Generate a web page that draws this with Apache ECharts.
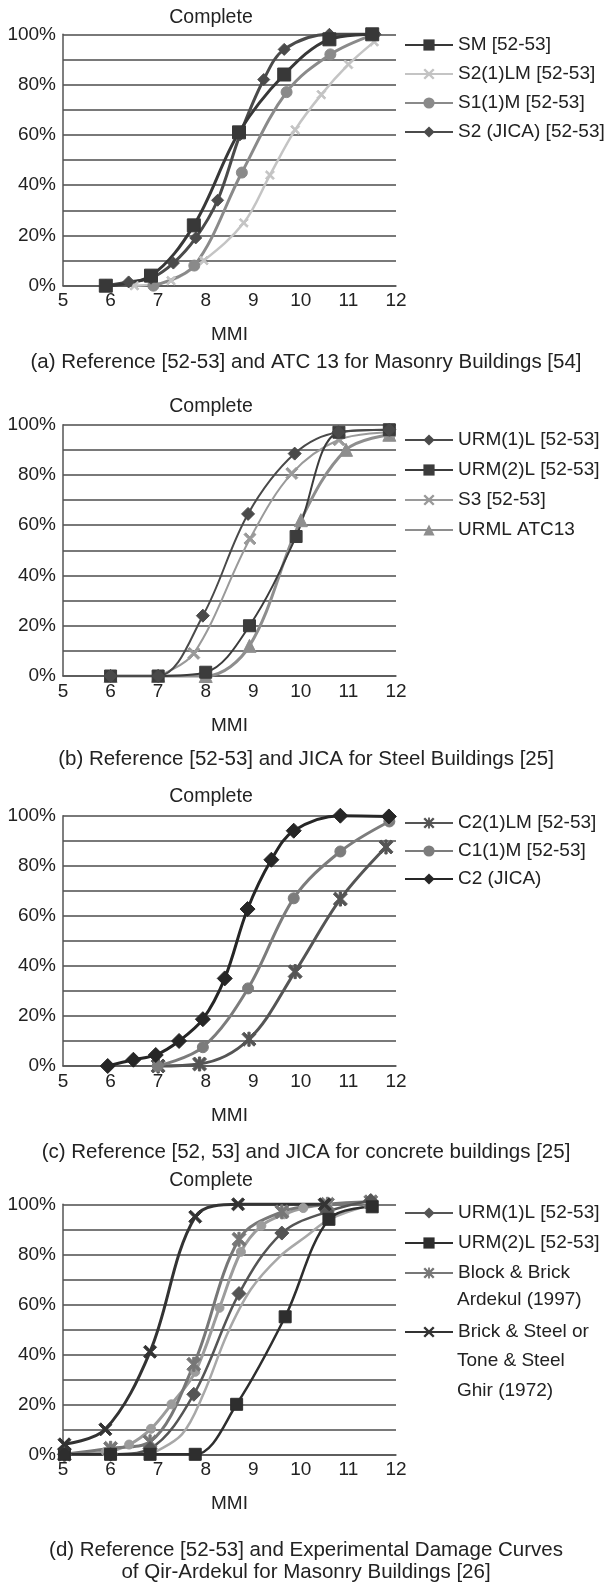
<!DOCTYPE html>
<html>
<head>
<meta charset="utf-8">
<script src="https://cdn.jsdelivr.net/npm/echarts@6/dist/echarts.min.js"></script>
<style>
html,body{margin:0;padding:0;background:#fff;}
#chart{width:613px;height:1589px;}
</style>
</head>
<body>
<div id="chart"></div>
<script>
// ---------- DATA ----------
const xTicks = [5, 6, 7, 8, 9, 10, 11, 12];
const yTickLabels = ['0%', '20%', '40%', '60%', '80%', '100%'];

// (a) Masonry
const a_SM_x = [5.9, 6.85, 7.75, 8.7, 9.65, 10.6, 11.5];
const a_SM_y = [0, 4, 24, 61, 84, 98, 100];
const a_S21LM_x = [6.5, 7.27, 7.96, 8.8, 9.35, 9.88, 10.43, 11.0, 11.54];
const a_S21LM_y = [0, 2, 10, 25, 44, 62, 76, 88, 97];
const a_S11M_x = [6.9, 7.76, 8.76, 9.7, 10.62, 11.54];
const a_S11M_y = [0, 8, 45, 77, 92, 100];
const a_S2JICA_x = [5.9, 6.38, 6.85, 7.32, 7.79, 8.25, 8.72, 9.22, 9.65, 10.6, 11.56];
const a_S2JICA_y = [0, 1.5, 3, 9, 19, 34, 60, 82, 94, 100, 100];

// (b) Steel
const b_URM1L_x = [6, 7, 7.94, 8.89, 9.87, 10.79, 11.86];
const b_URM1L_y = [0, 0, 24, 64.5, 88.5, 97, 98];
const b_URM2L_x = [6, 7, 8, 8.92, 9.9, 10.8, 11.86];
const b_URM2L_y = [0, 0, 1.5, 20, 55.5, 97, 98];
const b_S3_x = [7, 7.75, 8.93, 9.81, 10.8, 11.86];
const b_S3_y = [0, 9, 54.6, 80.6, 94, 97];
const b_URML_x = [6, 7, 8, 8.92, 10.0, 10.95, 11.86];
const b_URML_y = [0, 0, 0, 12, 62, 90, 96];

// (c) Concrete
const c_C21LM_x = [7.0, 7.87, 8.91, 9.88, 10.83, 11.79];
const c_C21LM_y = [0, 0.8, 10.7, 37.7, 66.7, 87.5];
const c_C11M_x = [6.99, 7.94, 8.89, 9.85, 10.83, 11.86];
const c_C11M_y = [0, 7.5, 31, 67, 85.7, 97.7];
const c_C2JICA_x = [5.94, 6.48, 6.95, 7.44, 7.94, 8.4, 8.88, 9.38, 9.85, 10.83, 11.85];
const c_C2JICA_y = [0, 2.5, 4.4, 10, 18.7, 35, 62.7, 82.4, 94, 100, 99.7];

// (d) Qir-Ardekul
const d_URM1L_x = [5.03, 6.0, 6.83, 7.75, 8.7, 9.6, 10.55, 11.47];
const d_URM1L_y = [0, 0, 2.3, 24, 64.3, 88.5, 97, 101.5];
const d_URM2L_x = [5.03, 6.0, 6.83, 7.78, 8.65, 9.67, 10.59, 11.5];
const d_URM2L_y = [0, 0, 0, 0, 20, 55, 94, 99];
const d_Block_x = [5.03, 6.0, 6.83, 7.75, 8.7, 9.6, 10.56, 11.47];
const d_Block_y = [0, 2.4, 5, 36, 86, 97, 100, 101];
const d_Ghir_x = [5.03, 5.89, 6.83, 7.78, 8.68, 10.5];
const d_Ghir_y = [4, 10, 41, 95, 100, 100];
const d_Extra1_x = [5.03, 5.9, 6.39, 6.85, 7.28, 7.78, 8.29, 8.74, 9.17, 9.65, 10.05, 10.56];
const d_Extra1_y = [0, 1, 3.9, 10.2, 20, 33, 58.6, 81, 91.4, 96, 98.5, 100];
const d_Extra2_x = [6.83, 7.5, 7.95, 8.45, 8.95, 9.55, 10.1, 10.6, 11.5];
const d_Extra2_y = [0, 8, 24, 48, 66, 79, 87, 94, 100];

const captions = [
  '(a) Reference [52-53] and ATC 13 for Masonry Buildings [54]',
  '(b) Reference [52-53] and JICA for Steel Buildings [25]',
  '(c) Reference [52, 53] and JICA for concrete buildings [25]',
  '(d) Reference [52-53] and Experimental Damage Curves\nof Qir-Ardekul for Masonry Buildings [26]'
];

// ---------- STYLE / LAYOUT ----------
const FF = '"Liberation Sans", Arial, sans-serif';
const FS = 19;
const TXT = '#222';
const GRID_LEFT = 63, GRID_W = 333;
const gridTops = [34.3, 424.7, 815.7, 1204.3];
const gridHs = [251.4, 251.3, 250.3, 250.0];
const titleCenters = [18, 406.7, 796.7, 1181];
const captionCenters = [362, 759, 1152, 1561];

const X_PATH = 'path://M0,1.5 L1.5,0 L5,3.5 L8.5,0 L10,1.5 L6.5,5 L10,8.5 L8.5,10 L5,6.5 L1.5,10 L0,8.5 L3.5,5 Z';
const AST_PATH = 'path://M0,1.5 L1.5,0 L5,3.5 L8.5,0 L10,1.5 L6.5,5 L10,8.5 L8.5,10 L5,6.5 L1.5,10 L0,8.5 L3.5,5 Z M4.2,0 L5.8,0 L5.8,10 L4.2,10 Z';

const zip = (xs, ys) => xs.map((x, i) => [x, ys[i]]);

function mk(name, idx, xs, ys, color, symbol, size, width) {
  return {
    name: name, type: 'line', xAxisIndex: idx, yAxisIndex: idx,
    data: zip(xs, ys), smooth: 0.35, clip: false,
    symbol: symbol, symbolSize: size, showSymbol: symbol !== 'none',
    lineStyle: { color: color, width: width },
    itemStyle: { color: color, borderColor: color },
    emphasis: { disabled: true }, silent: true
  };
}

const series = [
  // a
  mk('S2(1)LM [52-53]', 0, a_S21LM_x, a_S21LM_y, '#c4c4c4', X_PATH, 9, 2.5),
  mk('S1(1)M [52-53]', 0, a_S11M_x, a_S11M_y, '#8a8a8a', 'circle', 11, 3),
  mk('S2 (JICA) [52-53]', 0, a_S2JICA_x, a_S2JICA_y, '#4b4b4b', 'diamond', 12, 3),
  mk('SM [52-53]', 0, a_SM_x, a_SM_y, '#383838', 'rect', 13, 3),
  // b
  mk('URML ATC13', 1, b_URML_x, b_URML_y, '#8e8e8e', 'triangle', 13, 3),
  mk('S3 [52-53]', 1, b_S3_x, b_S3_y, '#9a9a9a', X_PATH, 12, 2),
  mk('URM(2)L [52-53]', 1, b_URM2L_x, b_URM2L_y, '#3c3c3c', 'rect', 12, 2),
  mk('URM(1)L [52-53]', 1, b_URM1L_x, b_URM1L_y, '#4a4a4a', 'diamond', 13, 2),
  // c
  mk('C2(1)LM [52-53]', 2, c_C21LM_x, c_C21LM_y, '#555555', AST_PATH, 14, 3),
  mk('C1(1)M [52-53]', 2, c_C11M_x, c_C11M_y, '#7c7c7c', 'circle', 11, 3),
  mk('C2 (JICA)', 2, c_C2JICA_x, c_C2JICA_y, '#262626', 'diamond', 15, 3),
  // d
  mk('extra-line', 3, d_Extra2_x, d_Extra2_y, '#a8a8a8', 'none', 0, 2.5),
  mk('extra-circles', 3, d_Extra1_x, d_Extra1_y, '#9c9c9c', 'circle', 9, 3),
  mk('Block & Brick Ardekul (1997)', 3, d_Block_x, d_Block_y, '#777777', AST_PATH, 14, 3),
  mk('URM(1)L [52-53] ', 3, d_URM1L_x, d_URM1L_y, '#555555', 'diamond', 14, 2.5),
  mk('URM(2)L [52-53] ', 3, d_URM2L_x, d_URM2L_y, '#2e2e2e', 'rect', 12, 2.5),
  mk('Brick & Steel or Tone & Steel Ghir (1972)', 3, d_Ghir_x, d_Ghir_y, '#333333', X_PATH, 13, 3)
];

const grids = gridTops.map((t, i) => ({ left: GRID_LEFT, width: GRID_W, top: t, height: gridHs[i] }));

const xAxes = gridTops.map((t, i) => ({
  type: 'value', gridIndex: i, min: 5, max: 12, interval: 1,
  axisLine: { show: true, lineStyle: { color: '#555', width: 1.5 } },
  axisTick: { show: false }, splitLine: { show: false },
  axisLabel: { color: TXT, fontSize: FS, fontFamily: FF, margin: 6,
    formatter: v => (xTicks.indexOf(v) >= 0 ? String(v) : '') },
  name: 'MMI', nameLocation: 'middle', nameGap: 40,
  nameTextStyle: { color: TXT, fontSize: FS, fontFamily: FF }
}));

const yAxes = gridTops.map((t, i) => ({
  type: 'value', gridIndex: i, min: 0, max: 100, interval: 10,
  axisLine: { show: true, lineStyle: { color: '#555', width: 1.5 } },
  axisTick: { show: false },
  splitLine: { show: true, lineStyle: { color: '#4d4d4d', width: 1.5 } },
  axisLabel: { color: TXT, fontSize: FS, fontFamily: FF, margin: 7,
    formatter: v => (v % 20 === 0 ? yTickLabels[v / 20] : '') }
}));

const titles = [];
titleCenters.forEach(c => titles.push({
  text: 'Complete', left: 211, top: c - 11, textAlign: 'center', padding: 0,
  textStyle: { color: TXT, fontSize: 19.5, fontWeight: 'normal', fontFamily: FF, lineHeight: 22 }
}));
captions.forEach((c, i) => {
  const nLines = c.split('\n').length;
  titles.push({
    text: c, left: 306, top: captionCenters[i] - 11 - (nLines - 1) * 11, textAlign: 'center', padding: 0,
    textStyle: { color: TXT, fontSize: 20.5, fontWeight: 'normal', fontFamily: FF, lineHeight: 22 }
  });
});

const legendBase = {
  orient: 'vertical', left: 404, itemWidth: 48, itemHeight: 14,
  textStyle: { color: TXT, fontSize: FS, fontFamily: FF, lineHeight: 20 },
  selectedMode: false, padding: 0
};
const nameMap = {
  'Block & Brick Ardekul (1997)': 'Block & Brick',
  'Brick & Steel or Tone & Steel Ghir (1972)': 'Brick & Steel or'
};
const legends = [
  Object.assign({}, legendBase, { top: 35, itemGap: 9,
    data: ['SM [52-53]', 'S2(1)LM [52-53]', 'S1(1)M [52-53]', 'S2 (JICA) [52-53]'] }),
  Object.assign({}, legendBase, { top: 430, itemGap: 10,
    data: ['URM(1)L [52-53]', 'URM(2)L [52-53]', 'S3 [52-53]', 'URML ATC13'] }),
  Object.assign({}, legendBase, { top: 813, itemGap: 8,
    data: ['C2(1)LM [52-53]', 'C1(1)M [52-53]', 'C2 (JICA)'] }),
  Object.assign({}, legendBase, { top: 1203, itemGap: 10,
    formatter: n => nameMap[n] || n.trim(),
    data: ['URM(1)L [52-53] ', 'URM(2)L [52-53] ', 'Block & Brick Ardekul (1997)'] }),
  Object.assign({}, legendBase, { top: 1322, itemGap: 10,
    formatter: n => nameMap[n] || n.trim(),
    data: ['Brick & Steel or Tone & Steel Ghir (1972)'] })
];

const extraLines = [['Ardekul (1997)', 1301], ['Tone & Steel', 1362], ['Ghir (1972)', 1392]];
const graphics = extraLines.map(e => ({
  type: 'text', left: 457, top: e[1] - 11,
  style: { text: e[0], fill: TXT, font: FS + 'px ' + FF }
}));

const chart = echarts.init(document.getElementById('chart'), null, { renderer: 'canvas' });
chart.setOption({
  animation: false,
  backgroundColor: '#ffffff',
  title: titles,
  legend: legends,
  grid: grids,
  xAxis: xAxes,
  yAxis: yAxes,
  series: series,
  graphic: graphics
});
</script>
</body>
</html>
